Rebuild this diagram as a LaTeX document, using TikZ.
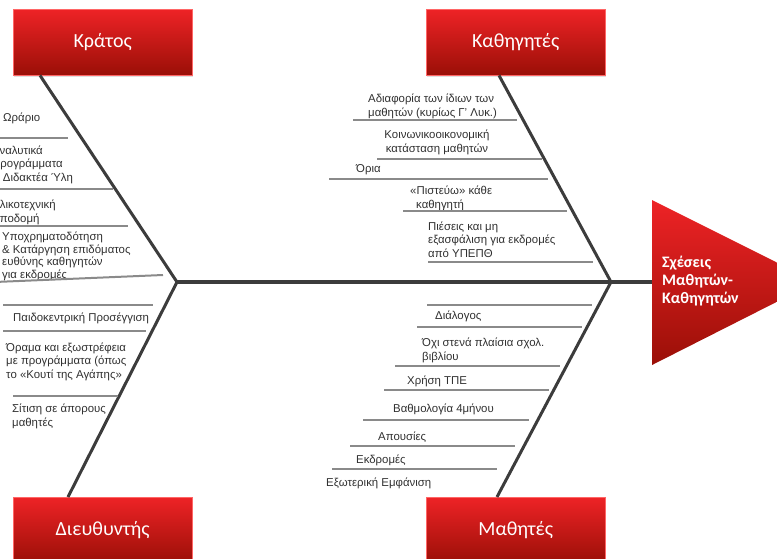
\documentclass[tikz,border=0pt]{standalone}
\usepackage{fontspec}
\setmainfont{Liberation Sans}
\newfontfamily\boxfont{Carlito}
\usepackage{tikz}
\usetikzlibrary{shadows}
\usetikzlibrary{positioning}

\definecolor{boxtop}{HTML}{EE2326}
\definecolor{boxbottom}{HTML}{9A0F07}
\definecolor{bonegray}{HTML}{3C3C3C}
\definecolor{ribgray}{HTML}{8A8A8A}
\definecolor{causetext}{HTML}{303030}

\begin{document}
\begin{tikzpicture}[x=1pt,y=-1pt,
        box/.style = {top color=boxtop,bottom color=boxbottom,draw=red!60!white,
            line width=0.4pt,minimum width=179pt,minimum height=66pt,anchor=north west,
            text=white,font=\boxfont\fontsize{20}{24}\selectfont,
            drop shadow={opacity=0.25,shadow xshift=1pt,shadow yshift=-2pt}},
        bone/.style = {draw=bonegray,line width=3pt},
        spine/.style = {draw=bonegray,line width=4pt},
        rib/.style = {draw=ribgray,line width=2pt},
        cause/.style = {anchor=base west,inner sep=0pt,align=left,text=causetext,
            font=\fontsize{11.4}{13.2}\selectfont}]
        \useasboundingbox (0,0) rectangle (777,558);
        \clip (0,0) rectangle (777,558);
        % head of the fish
        \shade[top color=boxtop,bottom color=boxbottom]
            (652,200) -- (816,282) -- (652,365) -- cycle;
        \coordinate (effect) at (652,282);
        \node[anchor=west,inner sep=0pt,align=left,text=white,
            font=\boxfont\bfseries\fontsize{16}{18}\selectfont]
            (effecttext) at (662,281) {Σχέσεις\\Μαθητών-\\Καθηγητών};
        % categories
        \node[box] (kratos) at (13,9) {Κράτος};
        \node[box] (kathigites) at (426,9) {Καθηγητές};
        \node[box] (dieuthyntis) at (13,497) {Διευθυντής};
        \node[box] (mathites) at (426,497) {Μαθητές};
        \coordinate (jointL) at (177,282);
        \coordinate (jointR) at (611,282);
        \draw[spine] (jointL) -- (effect);
        \draw[bone] ([xshift=27pt]kratos.south west) -- (jointL)
            -- ([xshift=55pt]dieuthyntis.north west);
        \draw[bone] ([xshift=73pt]kathigites.south west) -- (jointR)
            -- ([xshift=71pt]mathites.north west);
        % causes, Κράτος (base = last line)
        \node[cause] (orario) at (3,121) {Ωράριο};
        \draw[rib] (-5,138) -- (68,138);
        \node[cause] (analytika) at (-8,181) {Αναλυτικά\\Προγράμματα\\\& Διδακτέα Ύλη};
        \draw[rib] (-5,189) -- (113,189);
        \node[cause] (ylikotexniki) at (-8,222) {Υλικοτεχνική\\Υποδομή};
        \draw[rib] (-5,226) -- (128,226);
        \node[cause,font=\fontsize{11.4}{12.4}\selectfont] (ypoxrimatodotisi) at (2,278)
            {Υποχρηματοδότηση\\\& Κατάργηση επιδόματος\\ευθύνης καθηγητών\\για εκδρομές};
        \draw[rib] (-5,282) -- (163,275);
        % causes, Διευθυντής
        \draw[rib] (3,305) -- (153,305);
        \node[cause] (paidokentriki) at (13,321) {Παιδοκεντρική Προσέγγιση};
        \draw[rib] (3,331) -- (146,331);
        \node[cause] (orama) at (6,378)
            {Όραμα και εξωστρέφεια\\με προγράμματα (όπως\\το «Κουτί της Αγάπης»};
        \draw[rib] (13,396) -- (118,396);
        \node[cause] (sitisi) at (12,426) {Σίτιση σε άπορους\\μαθητές};
        % causes, Καθηγητές
        \node[cause] (adiaforia) at (368,116) {Αδιαφορία των ίδιων των\\μαθητών (κυρίως Γ’ Λυκ.)};
        \draw[rib] (353,120) -- (517,120);
        \node[cause,align=center,anchor=base] (koinoniko) at (437,152)
            {Κοινωνικοοικονομική\\κατάσταση μαθητών};
        \draw[rib] (377,159) -- (542,159);
        \node[cause] (oria) at (356,172) {Όρια};
        \draw[rib] (329,179) -- (548,179);
        \node[cause] (pistevo) at (410,208) {«Πιστεύω» κάθε\\\hspace*{6pt}καθηγητή};
        \draw[rib] (403,211) -- (567,211);
        \node[cause] (pieseis) at (428,257) {Πιέσεις και μη\\εξασφάλιση για εκδρομές\\από ΥΠΕΠΘ};
        \draw[rib] (428,262) -- (593,262);
        % causes, Μαθητές
        \draw[rib] (427,305) -- (592,305);
        \node[cause] (dialogos) at (435,319) {Διάλογος};
        \draw[rib] (417,327) -- (582,327);
        \node[cause] (sxoliko) at (422,360) {Όχι στενά πλαίσια σχολ.\\βιβλίου};
        \draw[rib] (395,366) -- (560,366);
        \node[cause] (tpe) at (407,384) {Χρήση ΤΠΕ};
        \draw[rib] (384,390) -- (549,390);
        \node[cause] (vathmologia) at (393,412) {Βαθμολογία 4μήνου};
        \draw[rib] (363,420) -- (529,420);
        \node[cause] (apousies) at (378,440) {Απουσίες};
        \draw[rib] (350,446) -- (515,446);
        \node[cause] (ekdromes) at (356,463) {Εκδρομές};
        \draw[rib] (332,469) -- (497,469);
        \node[cause] (emfanisi) at (326,486) {Εξωτερική Εμφάνιση};
\end{tikzpicture}
\end{document}
